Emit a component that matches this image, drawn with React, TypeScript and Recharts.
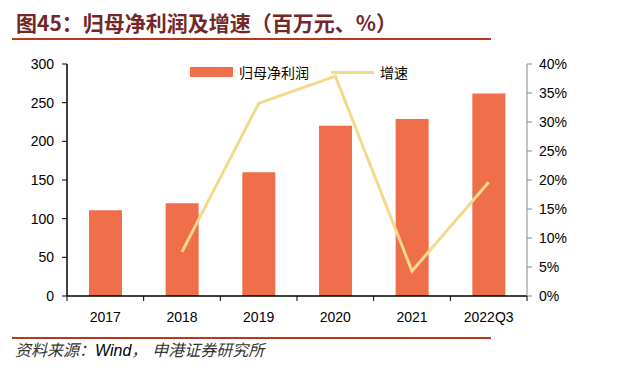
import React from "react";
import { ComposedChart, Bar, Line, XAxis, YAxis } from "recharts";

const years = ["2017", "2018", "2019", "2020", "2021", "2022Q3"];
const profit = [111, 120, 160, 220, 229, 262];
const growth = [null, 7.6, 33.2, 37.9, 4.3, 19.6];
const leftTicks = [0, 50, 100, 150, 200, 250, 300];
const rightTicks = [0, 5, 10, 15, 20, 25, 30, 35, 40];

const data = years.map((y, i) => ({ year: y, profit: profit[i], growth: growth[i] }));

const BAR = "#ee6f4a";
const LINE = "#f3d98a";
const FONT = "'Liberation Sans', Arial, sans-serif";
const CJK = "'Noto Sans CJK SC', sans-serif";

const PLOT_LEFT = 67;
const PLOT_RIGHT = 527;
const PLOT_BOTTOM = 296;
const slot = (PLOT_RIGHT - PLOT_LEFT) / years.length;

const XTick = (props: any) => {
  const { x, payload, index } = props;
  return (
    <g>
      <line x1={x - slot / 2} x2={x - slot / 2} y1={PLOT_BOTTOM} y2={PLOT_BOTTOM + 5} stroke="#000" />
      {index === years.length - 1 && (
        <line x1={x + slot / 2} x2={x + slot / 2} y1={PLOT_BOTTOM} y2={PLOT_BOTTOM + 5} stroke="#000" />
      )}
      <text x={x} y={PLOT_BOTTOM + 26} textAnchor="middle" fontSize={14} fill="#000" fontFamily={FONT}>
        {payload.value}
      </text>
    </g>
  );
};

export default function App() {
  return (
    <div style={{ position: "absolute", left: 0, top: 0, width: 623, height: 383, background: "#fff" }}>
      <div
        style={{
          position: "absolute",
          left: 16,
          top: 9,
          fontFamily: CJK,
          fontWeight: 700,
          fontSize: 21,
          color: "#732828",
          lineHeight: "26px",
          whiteSpace: "nowrap",
        }}
      >
        图45：归母净利润及增速（百万元、%）
      </div>
      <div style={{ position: "absolute", left: 12, top: 38, width: 479, height: 2, background: "#b9371f" }} />

      <div style={{ position: "absolute", left: 0, top: 0 }}>
        <ComposedChart
          width={623}
          height={330}
          data={data}
          margin={{ top: 64, right: 46, bottom: 4, left: 17 }}
        >
          <XAxis
            dataKey="year"
            xAxisId="x"
            tickLine={false}
            axisLine={{ stroke: "#000", strokeWidth: 1.5 }}
            tick={<XTick />}
            height={30}
            interval={0}
          />
          <YAxis
            yAxisId="l"
            domain={[0, 300]}
            ticks={leftTicks}
            width={50}
            tickSize={5}
            tickMargin={8}
            axisLine={{ stroke: "#000", strokeWidth: 1.5 }}
            tickLine={{ stroke: "#000" }}
            tick={{ fontSize: 14, fill: "#000", fontFamily: FONT }}
            interval={0}
          />
          <YAxis
            yAxisId="r"
            orientation="right"
            domain={[0, 40]}
            ticks={rightTicks}
            width={50}
            tickSize={5}
            tickMargin={7}
            tickFormatter={(v: number) => `${v}%`}
            axisLine={{ stroke: "#888" }}
            tickLine={{ stroke: "#888" }}
            tick={{ fontSize: 14, fill: "#000", fontFamily: FONT }}
            interval={0}
          />
          <Bar dataKey="profit" xAxisId="x" yAxisId="l" fill={BAR} barSize={33} isAnimationActive={false} />
          <Line
            dataKey="growth"
            xAxisId="x"
            yAxisId="r"
            type="linear"
            stroke={LINE}
            strokeWidth={3}
            dot={false}
            isAnimationActive={false}
          />
        </ComposedChart>
      </div>

      <div style={{ position: "absolute", left: 190, top: 62, display: "flex", alignItems: "center", fontFamily: CJK, fontSize: 14, color: "#000" }}>
        <span style={{ display: "inline-block", width: 43, height: 10, background: BAR, marginRight: 6 }} />
        <span>归母净利润</span>
        <span style={{ display: "inline-block", width: 43, height: 3, background: LINE, marginLeft: 22, marginRight: 6 }} />
        <span>增速</span>
      </div>

      <div style={{ position: "absolute", left: 12, top: 337, width: 479, height: 2, background: "#b9371f" }} />
      <div
        style={{
          position: "absolute",
          left: 15,
          top: 339,
          fontFamily: CJK,
          fontStyle: "italic",
          fontSize: 16,
          lineHeight: "20px",
          color: "#333",
          whiteSpace: "nowrap",
        }}
      >
        资料来源：<span style={{ fontFamily: FONT, color: "#000" }}>Wind</span>，<span style={{ marginLeft: 5 }}>申港证券研究所</span>
      </div>
    </div>
  );
}
